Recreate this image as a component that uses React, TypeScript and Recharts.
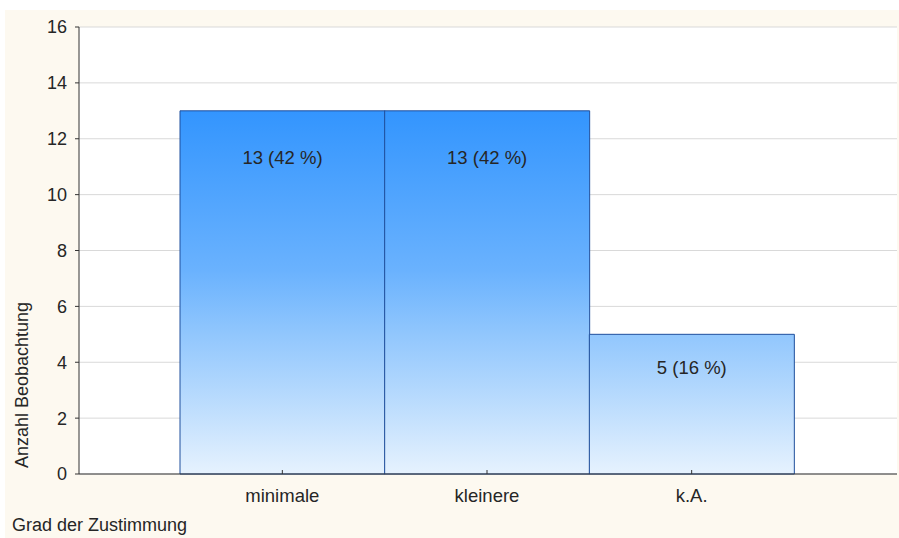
import { BarChart, Bar, XAxis, YAxis, CartesianGrid, LabelList } from 'recharts';

const categories = ['minimale', 'kleinere', 'k.A.'];
const counts = [13, 13, 5];
const percents = [42, 42, 16];
const yTicks = [0, 2, 4, 6, 8, 10, 12, 14, 16];

const chartData = categories.map((name, i) => ({
  name,
  value: counts[i],
  label: `${counts[i]} (${percents[i]} %)`,
}));

const FONT = '"Liberation Sans", Arial, sans-serif';
const TEXT = '#262626';

const BarLabel = (props: any) => {
  const { x, y, width, height, value } = props;
  return (
    <text
      x={x + width / 2}
      y={y + 25 + height * 0.06}
      textAnchor="middle"
      dominantBaseline="central"
      fontFamily={FONT}
      fontSize={18.5}
      fill={TEXT}
    >
      {value}
    </text>
  );
};

// small inward tick marks on the top and right frame edges
const InnerTick = (props: any) => {
  const { x, y, orientation } = props;
  if (orientation === 'top') {
    return <line x1={x} y1={27} x2={x} y2={31} stroke="#333" />;
  }
  return <line x1={897} y1={y} x2={893} y2={y} stroke="#333" />;
};

export default function App() {
  return (
    <div style={{ position: 'absolute', left: 0, top: 0, width: 899, height: 538, background: '#fff' }}>
      <div style={{ position: 'absolute', left: 5, top: 10, width: 894, height: 528, background: '#fdf9f0' }} />
      <div style={{ position: 'absolute', left: 0, top: 0 }}>
        <BarChart
          width={899}
          height={538}
          data={chartData}
          margin={{ top: 27, right: 2, bottom: 0, left: 0 }}
          barCategoryGap={0}
        >
          <defs>
            <linearGradient id="barFill" gradientUnits="userSpaceOnUse" x1="0" y1="111" x2="0" y2="474">
              <stop offset="0" stopColor="#3395fe" />
              <stop offset="0.44" stopColor="#6ab2fe" />
              <stop offset="0.61" stopColor="#90c6fd" />
              <stop offset="1" stopColor="#e6f2fe" />
            </linearGradient>
          </defs>
          <CartesianGrid vertical={false} stroke="#d9d9d9" fill="#fff" />
          <XAxis
            dataKey="name"
            padding={{ left: 101, right: 103 }}
            height={64}
            axisLine={{ stroke: '#333' }}
            tickLine={{ stroke: '#333' }}
            tickSize={-4}
            tick={{ fill: TEXT, fontSize: 18.5, fontFamily: FONT, dy: 17 }}
            label={{
              value: 'Grad der Zustimmung',
              content: () => (
                <text x={12} y={531} fontFamily={FONT} fontSize={18} fill={TEXT}>
                  Grad der Zustimmung
                </text>
              ),
            }}
          />
          <XAxis
            xAxisId="top"
            dataKey="name"
            orientation="top"
            padding={{ left: 101, right: 103 }}
            height={0}
            axisLine={{ stroke: '#333' }}
            tickLine={false}
            tick={<InnerTick orientation="top" />}
          />
          <YAxis
            domain={[0, 16]}
            ticks={yTicks}
            width={79}
            interval={0}
            axisLine={{ stroke: '#333' }}
            tickLine={{ stroke: '#333' }}
            tickSize={4}
            tick={{ fill: TEXT, fontSize: 18, fontFamily: FONT, dx: -6 }}
            label={{
              value: 'Anzahl Beobachtung',
              content: () => (
                <text
                  x={22}
                  y={385}
                  transform="rotate(-90 22 385)"
                  textAnchor="middle"
                  dominantBaseline="central"
                  fontFamily={FONT}
                  fontSize={18}
                  fill={TEXT}
                >
                  Anzahl Beobachtung
                </text>
              ),
            }}
          />
          <YAxis
            yAxisId="right"
            orientation="right"
            domain={[0, 16]}
            ticks={yTicks}
            width={0}
            interval={0}
            axisLine={{ stroke: '#333' }}
            tickLine={false}
            tick={<InnerTick orientation="right" />}
          />
          <Bar dataKey="value" fill="url(#barFill)" stroke="#1f4f9c" strokeWidth={1} isAnimationActive={false}>
            <LabelList dataKey="label" content={<BarLabel />} />
          </Bar>
        </BarChart>
      </div>
    </div>
  );
}
